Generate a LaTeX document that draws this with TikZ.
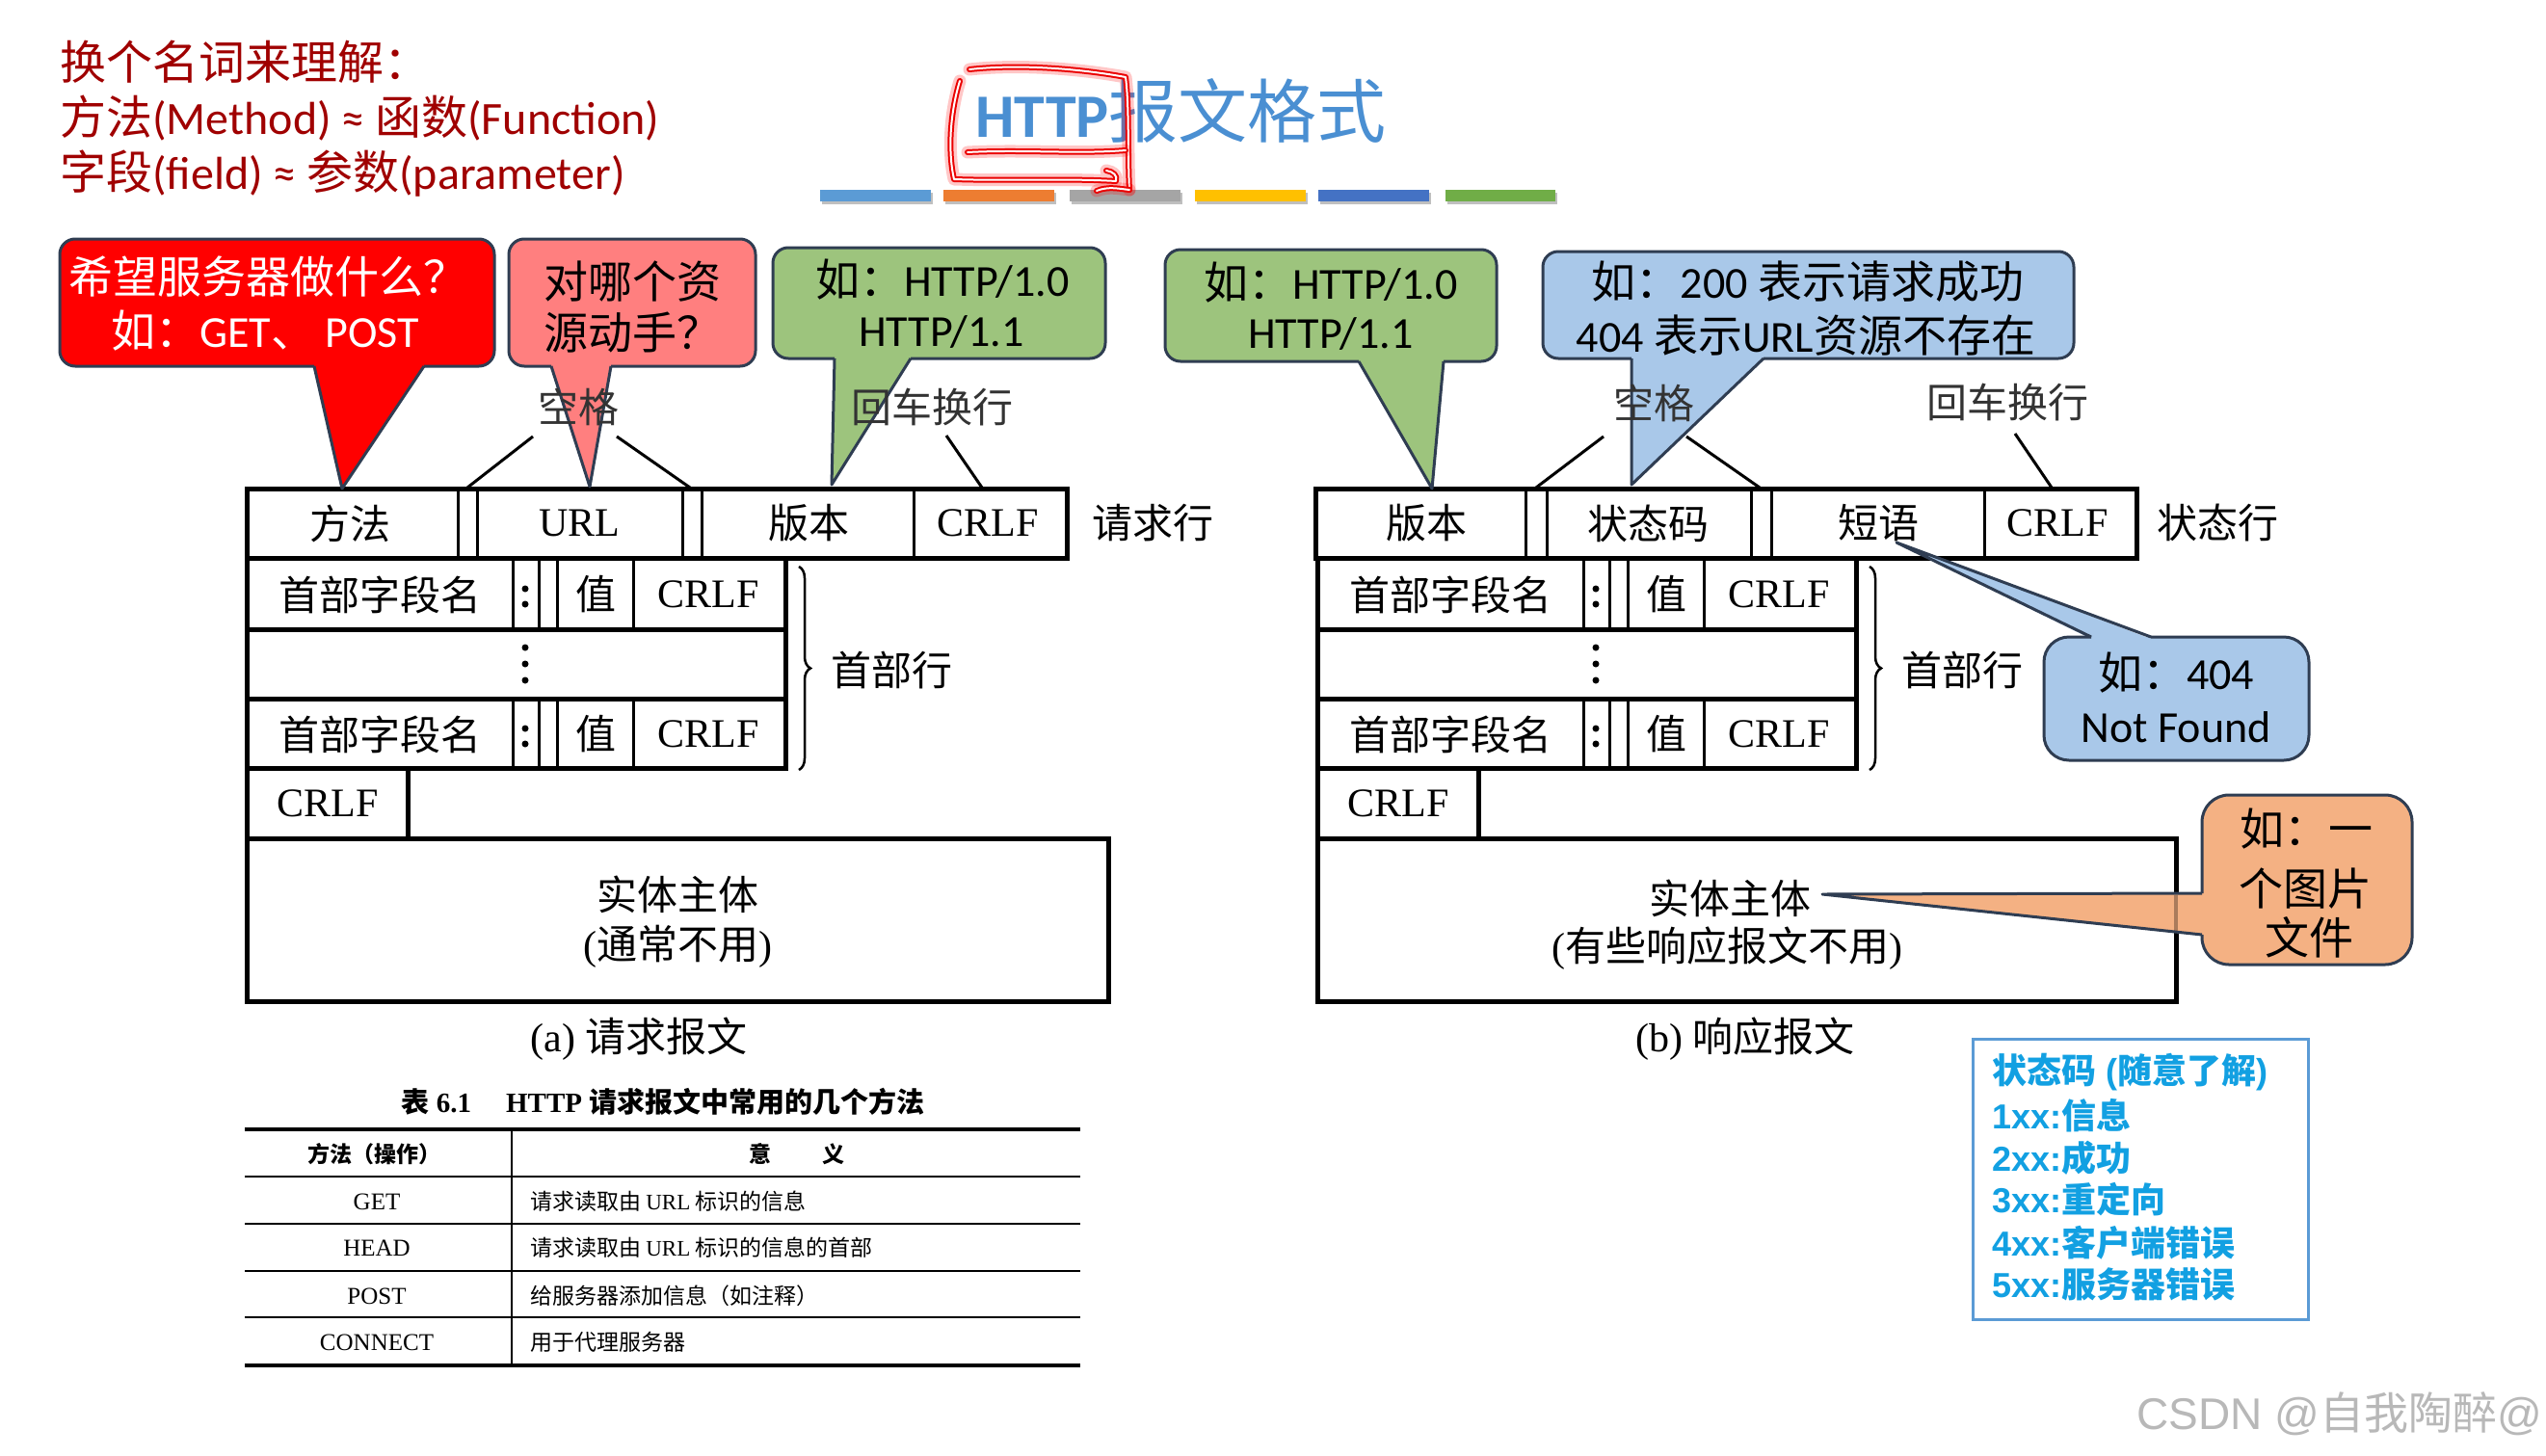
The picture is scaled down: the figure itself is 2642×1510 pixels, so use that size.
\documentclass[tikz,border=0pt]{standalone}
\usepackage{fontspec}
\setmainfont{Liberation Serif}
\newfontfamily\cjk{Noto Sans CJK SC}
\newfontfamily\calfont{Carlito}
\newfontfamily\arfont{Liberation Sans}
\usetikzlibrary{decorations.pathreplacing}
\newcommand\fsz[1]{\fontsize{#1}{#1}\selectfont}
\newcommand\zh[1]{{\cjk #1}}
\newcommand\en[1]{{\rmfamily #1}}
\definecolor{tlred}{HTML}{A00000}
\definecolor{ttlblue}{HTML}{4A8FD2}
\definecolor{barA}{HTML}{5B9BD5}
\definecolor{barB}{HTML}{ED7D31}
\definecolor{barC}{HTML}{A5A5A5}
\definecolor{barD}{HTML}{FFC000}
\definecolor{barE}{HTML}{4472C4}
\definecolor{barF}{HTML}{70AD47}
\definecolor{cred}{HTML}{FF0000}
\definecolor{cpink}{HTML}{FF7F7F}
\definecolor{cgreen}{HTML}{9DC47D}
\definecolor{cblue}{HTML}{A9C8E9}
\definecolor{corange}{HTML}{F4B183}
\definecolor{cedge}{HTML}{2F3D52}
\definecolor{scblue}{HTML}{12A0E2}
\definecolor{scframe}{HTML}{5B9BD5}
\tikzset{
  outer/.style={line width=5pt},
  divl/.style={line width=3pt},
  dtxt/.style={inner sep=0pt, font=\fsz{42}\cjk},
  ctxt/.style={inner sep=0pt, font=\fsz{46}\calfont},
  tltxt/.style={inner sep=0pt, anchor=west, font=\fsz{48}\calfont, text=tlred},
  tbtxt/.style={inner sep=0pt, font=\fsz{23}\cjk},
  tbl/.style={inner sep=0pt, font=\fsz{25}},
  sctxt/.style={inner sep=0pt, anchor=west, font=\fsz{36}\bfseries\arfont, text=scblue},
  cline/.style={draw=cedge, line width=3pt, line join=round},
  hand/.style={line cap=round, line join=round},
  slant/.style={line width=3pt},
}
% bottom-tail callout: fill, x1,y1,x2,y2, base x1, base x2, tip x, tip y
\newcommand\calloutB[9]{%
  \fill[#1, rounded corners=16pt] (#2,#3) rectangle (#4,#5);
  \fill[#1] (#6,{#5-2}) -- (#8,#9) -- (#7,{#5-2}) -- cycle;
  \draw[cline, rounded corners=16pt] (#7,#5) -- (#4,#5) -- (#4,#3) -- (#2,#3) -- (#2,#5) -- (#6,#5);
  \draw[cline] (#6,#5) -- (#8,#9) -- (#7,#5);}
\newcommand\handstroke[1]{%
  \draw[hand, red, line width=13pt, opacity=.22] #1;
  \draw[hand, red!92!black, line width=6pt] #1;
  \draw[hand, white, line width=2pt] #1;}
\begin{document}
\begin{tikzpicture}[x=1pt, y=-1pt]
\useasboundingbox (0,0) rectangle (2642,1510);
\fill[white] (0,0) rectangle (2642,1510);

% ---------- top-left text ----------
\node[tltxt] (tl1) at (62,64) {\zh{换个名词来理解：}};
\node[tltxt] (tl2) at (62,123) {\zh{方法}(Method) ≈ \zh{函数}(Function)};
\node[tltxt] (tl3) at (62,180) {\zh{字段}(field) ≈ \zh{参数}(parameter)};

% ---------- title ----------
\node[anchor=west, inner sep=0pt, text=ttlblue] (title) at (1012,115)
  {{\fsz{64}\calfont\bfseries HTTP}{\fsz{72}\cjk 报文格式}};
\foreach \xa/\xb/\c in {851/966/barA, 979/1094/barB, 1110/1225/barC, 1240/1355/barD, 1368/1483/barE, 1500/1614/barF}{
  \fill[black, opacity=.25] (\xa+2,200) rectangle (\xb+2,212);
  \fill[\c] (\xa,197) rectangle (\xb,209);
}
% hand-drawn red marking
\handstroke{(1006,72) .. controls (1060,66) and (1125,72) .. (1168,80) .. controls (1172,110) and (1170,160) .. (1172,197)}
\handstroke{(1004,158) .. controls (1060,155) and (1120,160) .. (1168,156)}
\handstroke{(996,84) .. controls (985,120) and (984,160) .. (990,186) .. controls (1050,188) and (1110,185) .. (1158,188) .. controls (1160,182) and (1155,178) .. (1148,177)}
\handstroke{(1138,198) .. controls (1150,193) and (1162,196) .. (1172,197)}

% ---------- request line ----------
\draw[outer] (256,507) rectangle (1107,579);
\foreach \x in {475,495,708,728,948} \draw[divl] (\x,507) -- (\x,579);
\node[dtxt] (rqm) at (363,543) {方法};
\node[dtxt] (rqu) at (601,543) {\en{URL}};
\node[dtxt] (rqv) at (839,543) {版本};
\node[dtxt] (rqc) at (1025,543) {\en{CRLF}};
\node[dtxt] (rql) at (1196,543) {请求行};

% ---------- status line ----------
\draw[outer] (1365,507) rectangle (2217,579);
\foreach \x in {1583,1605,1817,1838,2059} \draw[divl] (\x,507) -- (\x,579);
\node[dtxt] (rsv) at (1480,543) {版本};
\node[dtxt] (rss) at (1710,543) {状态码};
\node[dtxt] (rsp) at (1949,543) {短语};
\node[dtxt] (rsc) at (2135,543) {\en{CRLF}};
\node[dtxt] (rsl) at (2301,543) {状态行};

% ---------- header rows (both messages) ----------
\foreach \dx/\s in {0/a,1111/b}{
\begin{scope}[xshift=\dx pt]
  \draw[outer] (256,579) rectangle (815,653);
  \draw[outer] (256,653) rectangle (815,725);
  \draw[outer] (256,725) rectangle (815,797);
  \draw[outer] (256,797) rectangle (423,870);
  \foreach \x in {532,559,578,657}{
    \draw[divl] (\x,579) -- (\x,653);
    \draw[divl] (\x,725) -- (\x,797);
  }
  \node[dtxt] (hn1\s) at (394,617) {首部字段名};
  \fill (545,611) circle (3.5); \fill (545,627) circle (3.5);
  \node[dtxt] (hv1\s) at (618,617) {值};
  \node[dtxt] (hf1\s) at (735,617) {\en{CRLF}};
  \node[dtxt] (hn3\s) at (394,762) {首部字段名};
  \fill (545,756) circle (3.5); \fill (545,772) circle (3.5);
  \node[dtxt] (hv3\s) at (618,762) {值};
  \node[dtxt] (hf3\s) at (735,762) {\en{CRLF}};
  \fill (545,672) circle (3.5);
  \fill (545,689) circle (3.5);
  \fill (545,706) circle (3.5);
  \node[dtxt] (cr\s) at (340,834) {\en{CRLF}};
  \draw[line width=2.5pt, decorate, decoration={brace, amplitude=12pt}] (829,588) -- (829,799);
  \node[dtxt] (hl\s) at (925,696) {首部行};
\end{scope}}

% ---------- entity bodies ----------
\draw[outer] (256,870) rectangle (1150,1039);
\node[dtxt] (ea1) at (703,928) {实体主体};
\node[dtxt] (ea2) at (703,982) {\en{(}通常不用\en{)}};
\draw[outer] (1367,870) rectangle (2258,1039);
\node[dtxt] (eb1) at (1795,932) {实体主体};
\node[dtxt] (eb2) at (1792,984) {\en{(}有些响应报文不用\en{)}};
\node[dtxt] (capa) at (663,1078) {\en{(a)} 请求报文};
\node[dtxt] (capb) at (1811,1078) {\en{(b)} 响应报文};

% ---------- label leader lines ----------
\coordinate (sa1) at (553,453); \coordinate (sa2) at (485,506);
\coordinate (sa3) at (640,453); \coordinate (sa4) at (716,506);
\draw[slant] (sa1) -- (sa2); \draw[slant] (sa3) -- (sa4);
\coordinate (ha1) at (982,452); \coordinate (ha2) at (1019,506);
\draw[slant] (ha1) -- (ha2);
\coordinate (sb1) at (1664,453); \coordinate (sb2) at (1594,506);
\coordinate (sb3) at (1750,453); \coordinate (sb4) at (1826,506);
\draw[slant] (sb1) -- (sb2); \draw[slant] (sb3) -- (sb4);
\coordinate (hb1) at (2091,450); \coordinate (hb2) at (2129,506);
\draw[slant] (hb1) -- (hb2);

% ---------- callouts ----------
\calloutB{cred}{62}{248}{513}{380}{326}{440}{355}{507}
\node[ctxt, text=white] (c1a) at (278,287) {\zh{希望服务器做什么？}};
\node[ctxt, text=white] (c1b) at (275,343) {\zh{如：}GET\zh{、} POST};
\calloutB{cpink}{528}{248}{784}{380}{572}{634}{612}{505}
\node[ctxt] (c2a) at (656,292) {\zh{对哪个资}};
\node[ctxt] (c2b) at (656,345) {\zh{源动手？}};
\calloutB{cgreen}{802}{257}{1147}{372}{866}{945}{863}{503}
\node[ctxt] (c3a) at (978,290) {\zh{如：}HTTP/1.0};
\node[ctxt] (c3b) at (977,345) {HTTP/1.1};
\calloutB{cgreen}{1209}{259}{1553}{375}{1410}{1498}{1486}{507}
\node[ctxt] (c4a) at (1381,293) {\zh{如：}HTTP/1.0};
\node[ctxt] (c4b) at (1381,347) {HTTP/1.1};
\calloutB{cblue}{1601}{261}{2152}{372}{1693}{1830}{1693}{503}
\node[ctxt] (c5a) at (1876,292) {\zh{如：}200 \zh{表示请求成功}};
\node[ctxt] (c5b) at (1874,348) {404 \zh{表示}URL\zh{资源不存在}};
% 404 callout (tail on top)
\fill[cblue, rounded corners=26pt] (2121,661) rectangle (2396,789);
\fill[cblue] (2170,663) -- (1968,563) -- (2232,663) -- cycle;
\draw[cline, rounded corners=26pt] (2170,661) -- (2121,661) -- (2121,789) -- (2396,789) -- (2396,661) -- (2232,661);
\draw[cline] (2170,661) -- (1968,563) -- (2232,661);
\node[ctxt] (c6a) at (2258,698) {\zh{如：}404};
\node[ctxt] (c6b) at (2258,755) {Not Found};
% image-file callout (tail on left)
\fill[corange, rounded corners=28pt] (2285,825) rectangle (2503,1001);
\fill[corange] (2287,927) -- (1891,928) -- (2287,970) -- cycle;
\draw[black, opacity=.3, line width=4pt] (2258,929) -- (2258,968);
\draw[cline, rounded corners=28pt] (2285,927) -- (2285,825) -- (2503,825) -- (2503,1001) -- (2285,1001) -- (2285,970);
\draw[cline] (2285,927) -- (1891,928) -- (2285,970);
\node[ctxt] (c7a) at (2393,860) {\zh{如：一}};
\node[ctxt] (c7b) at (2392,922) {\zh{个图片}};
\node[ctxt] (c7c) at (2396,973) {\zh{文件}};

% ---------- labels over callout tails ----------
\node[dtxt, text=black!80] (spa) at (600,422) {空格};
\node[dtxt, text=black!80] (cra) at (967,422) {回车换行};
\node[dtxt, text=black!80] (spb) at (1716,418) {空格};
\node[dtxt, text=black!80] (crb) at (2083,417) {回车换行};

% ---------- table ----------
\node[inner sep=0pt, font=\fsz{29}\bfseries] (tbt) at (688,1143)
  {\zh{表} 6.1\hspace{36pt}HTTP \zh{请求报文中常用的几个方法}};
\draw[line width=3.5pt] (254,1172) -- (1121,1172);
\foreach \y in {1221,1270,1319,1367} \draw[line width=2pt] (254,\y) -- (1121,\y);
\draw[line width=3.5pt] (254,1417) -- (1121,1417);
\draw[line width=2pt] (531,1172) -- (531,1417);
\node[tbtxt, font=\fsz{23}\cjk\bfseries] (th1) at (388,1198) {方法（操作）};
\node[tbtxt, font=\fsz{23}\cjk\bfseries] (th2) at (827,1198) {意\hspace{54pt}义};
\node[tbl] (tg) at (391,1247) {GET};
\node[tbl] (thd) at (391,1295) {HEAD};
\node[tbl] (tp) at (391,1345) {POST};
\node[tbl] (tc) at (391,1393) {CONNECT};
\node[tbtxt, anchor=west] (dg) at (550,1247) {请求读取由 \en{URL} 标识的信息};
\node[tbtxt, anchor=west] (dh) at (550,1295) {请求读取由 \en{URL} 标识的信息的首部};
\node[tbtxt, anchor=west] (dp) at (550,1345) {给服务器添加信息（如注释）};
\node[tbtxt, anchor=west] (dc) at (550,1393) {用于代理服务器};

% ---------- status code box ----------
\draw[scframe, line width=3pt] (2047,1078) rectangle (2395,1369);
\node[sctxt] (sc0) at (2067,1113) {\zh{状态码} (\zh{随意了解})};
\node[sctxt] (sc1) at (2067,1158) {1xx:\zh{信息}};
\node[sctxt] (sc2) at (2067,1202) {2xx:\zh{成功}};
\node[sctxt] (sc3) at (2067,1245) {3xx:\zh{重定向}};
\node[sctxt] (sc4) at (2067,1290) {4xx:\zh{客户端错误}};
\node[sctxt] (sc5) at (2067,1333) {5xx:\zh{服务器错误}};

% ---------- watermark ----------
\node[anchor=east, inner sep=0pt, text=black!28, font=\fsz{46}\arfont] (wm) at (2638,1467) {CSDN @\zh{自我陶醉}@};
\end{tikzpicture}
\end{document}
